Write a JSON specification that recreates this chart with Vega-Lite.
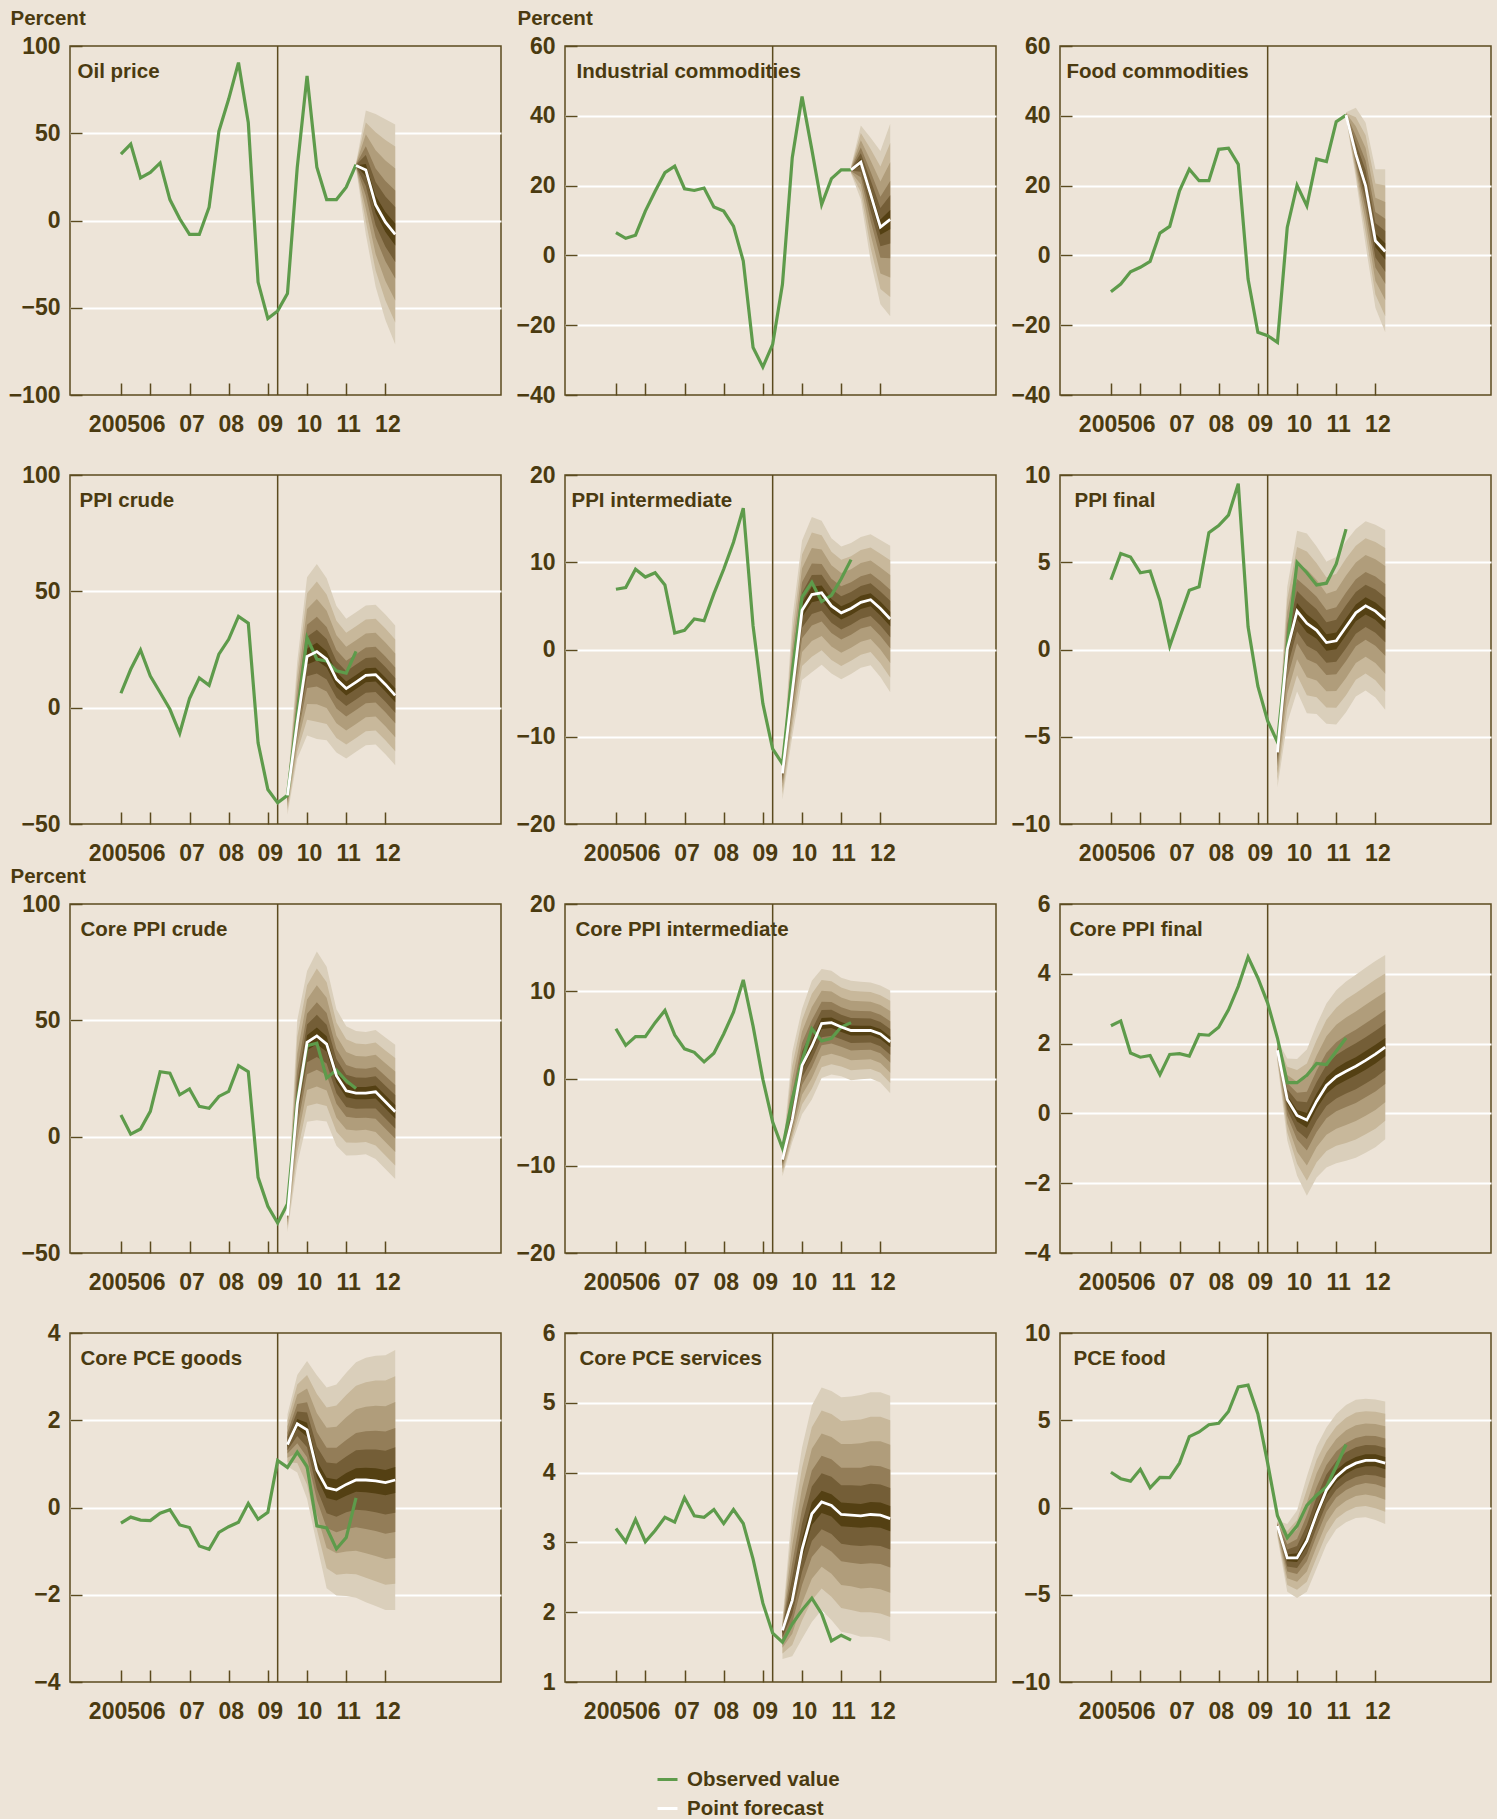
{
"$schema":"https://vega.github.io/schema/vega-lite/v6.json",
"padding":{"left":7,"top":7,"right":5,"bottom":5},
"background":"#ede4d8",
"datasets":{
"d1":[{"t":2005.25,"o":38.1},{"t":2005.5,"o":43.8},{"t":2005.75,"o":24.4},{"t":2006,"o":27.6},{"t":2006.25,"o":33},{"t":2006.5,"o":12},{"t":2006.75,"o":1},{"t":2007,"o":-8},{"t":2007.25,"o":-8},{"t":2007.5,"o":7.6},{"t":2007.75,"o":51.1},{"t":2008,"o":69.6},{"t":2008.25,"o":90.5},{"t":2008.5,"o":56.2},{"t":2008.75,"o":-35.3},{"t":2009,"o":-56.2},{"t":2009.25,"o":-51.8},{"t":2009.5,"o":-41.9},{"t":2009.75,"o":30.5},{"t":2010,"o":82.9},{"t":2010.25,"o":30.5},{"t":2010.5,"o":12},{"t":2010.75,"o":12},{"t":2011,"o":19.1},
{"t":2011.25,"o":32,"c":31.5,"l1":30,"h1":33,"l2":30.3,"h2":32.7,"l3":30.6,"h3":32.4,"l4":30.9,"h4":32.1,"l5":31.1,"h5":31.9,"l6":31.4,"h6":31.7},
{"t":2011.5,"c":29,"l1":-8,"h1":63,"l2":-0.6,"h2":56.2,"l3":6.8,"h3":49.4,"l4":14.2,"h4":42.6,"l5":19.75,"h5":37.5,"l6":25.3,"h6":32.4},
{"t":2011.75,"c":9,"l1":-38,"h1":61,"l2":-28.6,"h2":50.6,"l3":-19.2,"h3":40.2,"l4":-9.8,"h4":29.8,"l5":-2.75,"h5":22,"l6":4.3,"h6":14.2},
{"t":2012,"c":-1,"l1":-57,"h1":58,"l2":-45.8,"h2":46.2,"l3":-34.6,"h3":34.4,"l4":-23.4,"h4":22.6,"l5":-15,"h5":13.75,"l6":-6.6,"h6":4.9},
{"t":2012.25,"c":-8,"l1":-71,"h1":55,"l2":-58.4,"h2":42.4,"l3":-45.8,"h3":29.8,"l4":-33.2,"h4":17.2,"l5":-23.75,"h5":7.75,"l6":-14.3,"h6":-1.7}],
"d2":[{"t":2005.25,"o":6.5},{"t":2005.5,"o":4.9},{"t":2005.75,"o":5.8},{"t":2006,"o":12.7},{"t":2006.25,"o":18.4},{"t":2006.5,"o":23.7},{"t":2006.75,"o":25.6},{"t":2007,"o":19.1},{"t":2007.25,"o":18.6},{"t":2007.5,"o":19.3},{"t":2007.75,"o":13.9},{"t":2008,"o":12.7},{"t":2008.25,"o":8.4},{"t":2008.5,"o":-1.6},{"t":2008.75,"o":-26.4},{"t":2009,"o":-32},{"t":2009.25,"o":-25.5},{"t":2009.5,"o":-8.3},{"t":2009.75,"o":28},{"t":2010,"o":45.5},{"t":2010.25,"o":30.3},{"t":2010.5,"o":14.6},{"t":2010.75,"o":22},{"t":2011,"o":24.5},
{"t":2011.25,"o":24.5,"c":24.5,"l1":23.5,"h1":25.5,"l2":23.7,"h2":25.3,"l3":23.9,"h3":25.1,"l4":24.1,"h4":24.9,"l5":24.25,"h5":24.75,"l6":24.4,"h6":24.6},
{"t":2011.5,"c":26.7,"l1":16,"h1":37.2,"l2":18.1,"h2":35.1,"l3":20.3,"h3":33,"l4":22.4,"h4":30.9,"l5":24,"h5":29.3,"l6":25.6,"h6":27.75},
{"t":2011.75,"c":17.5,"l1":-1.6,"h1":33.7,"l2":2.2,"h2":30.5,"l3":6,"h3":27.2,"l4":9.9,"h4":24,"l5":12.7,"h5":21.6,"l6":15.6,"h6":19.1},
{"t":2012,"c":8.1,"l1":-14,"h1":29.9,"l2":-9.6,"h2":25.5,"l3":-5.2,"h3":21.2,"l4":-0.7,"h4":16.8,"l5":2.6,"h5":13.6,"l6":5.9,"h6":10.3},
{"t":2012.25,"c":10.3,"l1":-17.4,"h1":37.7,"l2":-11.9,"h2":32.2,"l3":-6.3,"h3":26.7,"l4":-0.8,"h4":21.3,"l5":3.4,"h5":17.2,"l6":7.5,"h6":13}],
"d3":[{"t":2005.25,"o":-10.4},{"t":2005.5,"o":-8.2},{"t":2005.75,"o":-4.7},{"t":2006,"o":-3.4},{"t":2006.25,"o":-1.7},{"t":2006.5,"o":6.4},{"t":2006.75,"o":8.3},{"t":2007,"o":18.5},{"t":2007.25,"o":24.7},{"t":2007.5,"o":21.4},{"t":2007.75,"o":21.4},{"t":2008,"o":30.4},{"t":2008.25,"o":30.7},{"t":2008.5,"o":26.1},{"t":2008.75,"o":-6.8},{"t":2009,"o":-22},{"t":2009.25,"o":-23},{"t":2009.5,"o":-24.9},{"t":2009.75,"o":8},{"t":2010,"o":20.1},{"t":2010.25,"o":14.2},{"t":2010.5,"o":27.6},{"t":2010.75,"o":26.9},{"t":2011,"o":38.3},
{"t":2011.25,"o":40.2,"c":40.2,"l1":39.4,"h1":41,"l2":39.6,"h2":40.8,"l3":39.7,"h3":40.7,"l4":39.9,"h4":40.5,"l5":40,"h5":40.4,"l6":40.1,"h6":40.3},
{"t":2011.5,"c":29,"l1":22,"h1":42.3,"l2":23.4,"h2":39.6,"l3":24.8,"h3":37,"l4":26.2,"h4":34.3,"l5":27.25,"h5":32.3,"l6":28.3,"h6":30.3},
{"t":2011.75,"c":19.9,"l1":3,"h1":38,"l2":6.4,"h2":34.4,"l3":9.8,"h3":30.8,"l4":13.1,"h4":27.1,"l5":15.7,"h5":24.4,"l6":18.2,"h6":21.7},
{"t":2012,"c":4.2,"l1":-15,"h1":24.7,"l2":-11.2,"h2":20.6,"l3":-7.3,"h3":16.5,"l4":-3.5,"h4":12.4,"l5":-0.6,"h5":9.3,"l6":2.3,"h6":6.25},
{"t":2012.25,"c":1.1,"l1":-22,"h1":24.7,"l2":-17.4,"h2":20,"l3":-12.8,"h3":15.3,"l4":-8.1,"h4":10.5,"l5":-4.7,"h5":7,"l6":-1.2,"h6":3.5}],
"d4":[{"t":2005.25,"o":6.2},{"t":2005.5,"o":16.5},{"t":2005.75,"o":24.8},{"t":2006,"o":13.6},{"t":2006.25,"o":6.5},{"t":2006.5,"o":-0.7},{"t":2006.75,"o":-11},{"t":2007,"o":3.9},{"t":2007.25,"o":12.8},{"t":2007.5,"o":9.6},{"t":2007.75,"o":23},{"t":2008,"o":29.4},{"t":2008.25,"o":39.2},{"t":2008.5,"o":36.3},{"t":2008.75,"o":-15.1},{"t":2009,"o":-35.2},{"t":2009.25,"o":-40.9},
{"t":2009.5,"o":-37.7,"c":-37.7,"l1":-46,"h1":-35,"l2":-44.3,"h2":-35.5,"l3":-42.7,"h3":-36.1,"l4":-41,"h4":-36.6,"l5":-39.8,"h5":-37,"l6":-38.5,"h6":-37.4},
{"t":2009.75,"o":-3,"c":-6.5,"l1":-22,"h1":20,"l2":-18.9,"h2":14.7,"l3":-15.8,"h3":9.4,"l4":-12.7,"h4":4.1,"l5":-10.4,"h5":0.1,"l6":-8.05,"h6":-3.85},
{"t":2010,"o":30,"c":22,"l1":-12,"h1":56,"l2":-5.2,"h2":49.2,"l3":1.6,"h3":42.4,"l4":8.4,"h4":35.6,"l5":13.5,"h5":30.5,"l6":18.6,"h6":25.4},
{"t":2010.25,"o":20.8,"c":24.1,"l1":-13.5,"h1":61.7,"l2":-6,"h2":54.2,"l3":1.5,"h3":46.7,"l4":9.1,"h4":39.1,"l5":14.7,"h5":33.5,"l6":20.3,"h6":27.9},
{"t":2010.5,"o":20.1,"c":20.8,"l1":-14,"h1":55.6,"l2":-7,"h2":48.6,"l3":-0.1,"h3":41.7,"l4":6.9,"h4":34.7,"l5":12.1,"h5":29.5,"l6":17.3,"h6":24.3},
{"t":2010.75,"o":15.8,"c":12.2,"l1":-19.3,"h1":43.7,"l2":-13,"h2":37.4,"l3":-6.7,"h3":31.1,"l4":-0.4,"h4":24.8,"l5":4.3,"h5":20.1,"l6":9,"h6":15.4},
{"t":2011,"o":14.8,"c":8.2,"l1":-21.8,"h1":38.2,"l2":-15.8,"h2":32.2,"l3":-9.8,"h3":26.2,"l4":-3.8,"h4":20.2,"l5":0.7,"h5":15.7,"l6":5.2,"h6":11.2},
{"t":2011.25,"o":24.2,"c":11,"l1":-19,"h1":41,"l2":-13,"h2":35,"l3":-7,"h3":29,"l4":-1,"h4":23,"l5":3.5,"h5":18.5,"l6":8,"h6":14},
{"t":2011.5,"c":13.9,"l1":-16.1,"h1":43.9,"l2":-10.1,"h2":37.9,"l3":-4.1,"h3":31.9,"l4":1.9,"h4":25.9,"l5":6.4,"h5":21.4,"l6":10.9,"h6":16.9},
{"t":2011.75,"c":14.2,"l1":-15.8,"h1":44.2,"l2":-9.8,"h2":38.2,"l3":-3.8,"h3":32.2,"l4":2.2,"h4":26.2,"l5":6.7,"h5":21.7,"l6":11.2,"h6":17.2},
{"t":2012,"c":10,"l1":-20,"h1":40,"l2":-14,"h2":34,"l3":-8,"h3":28,"l4":-2,"h4":22,"l5":2.5,"h5":17.5,"l6":7,"h6":13},
{"t":2012.25,"c":5.3,"l1":-24.7,"h1":35.3,"l2":-18.7,"h2":29.3,"l3":-12.7,"h3":23.3,"l4":-6.7,"h4":17.3,"l5":-2.2,"h5":12.8,"l6":2.3,"h6":8.3}],
"d5":[{"t":2005.25,"o":6.9},{"t":2005.5,"o":7.1},{"t":2005.75,"o":9.2},{"t":2006,"o":8.3},{"t":2006.25,"o":8.8},{"t":2006.5,"o":7.4},{"t":2006.75,"o":1.9},{"t":2007,"o":2.2},{"t":2007.25,"o":3.5},{"t":2007.5,"o":3.3},{"t":2007.75,"o":6.4},{"t":2008,"o":9.2},{"t":2008.25,"o":12.3},{"t":2008.5,"o":16.2},{"t":2008.75,"o":2.7},{"t":2009,"o":-6.2},{"t":2009.25,"o":-11.4},
{"t":2009.5,"o":-13.1,"c":-14.2,"l1":-17.2,"h1":-13.5,"l2":-16.6,"h2":-13.64,"l3":-16,"h3":-13.78,"l4":-15.4,"h4":-13.92,"l5":-14.95,"h5":-14.02,"l6":-14.5,"h6":-14.13},
{"t":2009.75,"o":-2.6,"c":-4.9,"l1":-10,"h1":3.5,"l2":-8.98,"h2":1.82,"l3":-7.96,"h3":0.14,"l4":-6.94,"h4":-1.54,"l5":-6.18,"h5":-2.8,"l6":-5.41,"h6":-4.06},
{"t":2010,"o":6,"c":4.5,"l1":-3.5,"h1":12.5,"l2":-1.9,"h2":10.9,"l3":-0.3,"h3":9.3,"l4":1.3,"h4":7.7,"l5":2.5,"h5":6.5,"l6":3.7,"h6":5.3},
{"t":2010.25,"o":7.7,"c":6.3,"l1":-2.6,"h1":15.2,"l2":-0.82,"h2":13.42,"l3":0.96,"h3":11.64,"l4":2.74,"h4":9.86,"l5":4.07,"h5":8.53,"l6":5.41,"h6":7.19},
{"t":2010.5,"o":5.5,"c":6.5,"l1":-1.75,"h1":14.75,"l2":-0.1,"h2":13.1,"l3":1.55,"h3":11.45,"l4":3.2,"h4":9.8,"l5":4.44,"h5":8.56,"l6":5.67,"h6":7.33},
{"t":2010.75,"o":6.2,"c":5,"l1":-2.75,"h1":12.75,"l2":-1.2,"h2":11.2,"l3":0.35,"h3":9.65,"l4":1.9,"h4":8.1,"l5":3.06,"h5":6.94,"l6":4.22,"h6":5.78},
{"t":2011,"o":8.1,"c":4.2,"l1":-3.4,"h1":11.8,"l2":-1.88,"h2":10.28,"l3":-0.36,"h3":8.76,"l4":1.16,"h4":7.24,"l5":2.3,"h5":6.1,"l6":3.44,"h6":4.96},
{"t":2011.25,"o":10.3,"c":4.7,"l1":-2.8,"h1":12.2,"l2":-1.3,"h2":10.7,"l3":0.2,"h3":9.2,"l4":1.7,"h4":7.7,"l5":2.83,"h5":6.58,"l6":3.95,"h6":5.45},
{"t":2011.5,"c":5.4,"l1":-2.1,"h1":12.9,"l2":-0.6,"h2":11.4,"l3":0.9,"h3":9.9,"l4":2.4,"h4":8.4,"l5":3.53,"h5":7.28,"l6":4.65,"h6":6.15},
{"t":2011.75,"c":5.7,"l1":-1.8,"h1":13.2,"l2":-0.3,"h2":11.7,"l3":1.2,"h3":10.2,"l4":2.7,"h4":8.7,"l5":3.83,"h5":7.58,"l6":4.95,"h6":6.45},
{"t":2012,"c":4.7,"l1":-3.15,"h1":12.55,"l2":-1.58,"h2":10.98,"l3":-0.01,"h3":9.41,"l4":1.56,"h4":7.84,"l5":2.74,"h5":6.66,"l6":3.91,"h6":5.49},
{"t":2012.25,"c":3.5,"l1":-4.9,"h1":11.9,"l2":-3.22,"h2":10.22,"l3":-1.54,"h3":8.54,"l4":0.14,"h4":6.86,"l5":1.4,"h5":5.6,"l6":2.66,"h6":4.34}],
"d6":[{"t":2005.25,"o":4},{"t":2005.5,"o":5.5},{"t":2005.75,"o":5.3},{"t":2006,"o":4.4},{"t":2006.25,"o":4.5},{"t":2006.5,"o":2.8},{"t":2006.75,"o":0.2},{"t":2007,"o":1.8},{"t":2007.25,"o":3.4},{"t":2007.5,"o":3.6},{"t":2007.75,"o":6.7},{"t":2008,"o":7.1},{"t":2008.25,"o":7.7},{"t":2008.5,"o":9.5},{"t":2008.75,"o":1.3},{"t":2009,"o":-2.1},{"t":2009.25,"o":-4.1},
{"t":2009.5,"o":-5.3,"c":-5.9,"l1":-7.9,"h1":-5.6,"l2":-7.5,"h2":-5.66,"l3":-7.1,"h3":-5.72,"l4":-6.7,"h4":-5.78,"l5":-6.4,"h5":-5.82,"l6":-6.1,"h6":-5.87},
{"t":2009.75,"o":0.2,"c":0,"l1":-4.2,"h1":3.6,"l2":-3.36,"h2":2.88,"l3":-2.52,"h3":2.16,"l4":-1.68,"h4":1.44,"l5":-1.05,"h5":0.9,"l6":-0.42,"h6":0.36},
{"t":2010,"o":5,"c":2.2,"l1":-2.4,"h1":6.8,"l2":-1.48,"h2":5.88,"l3":-0.56,"h3":4.96,"l4":0.36,"h4":4.04,"l5":1.05,"h5":3.35,"l6":1.74,"h6":2.66},
{"t":2010.25,"o":4.4,"c":1.5,"l1":-3.65,"h1":6.65,"l2":-2.62,"h2":5.62,"l3":-1.59,"h3":4.59,"l4":-0.56,"h4":3.56,"l5":0.21,"h5":2.79,"l6":0.98,"h6":2.02},
{"t":2010.5,"o":3.7,"c":1.1,"l1":-3.7,"h1":5.9,"l2":-2.74,"h2":4.94,"l3":-1.78,"h3":3.98,"l4":-0.82,"h4":3.02,"l5":-0.1,"h5":2.3,"l6":0.62,"h6":1.58},
{"t":2010.75,"o":3.8,"c":0.4,"l1":-4.25,"h1":5.05,"l2":-3.32,"h2":4.12,"l3":-2.39,"h3":3.19,"l4":-1.46,"h4":2.26,"l5":-0.76,"h5":1.56,"l6":-0.07,"h6":0.87},
{"t":2011,"o":4.9,"c":0.5,"l1":-4.3,"h1":5.3,"l2":-3.34,"h2":4.34,"l3":-2.38,"h3":3.38,"l4":-1.42,"h4":2.42,"l5":-0.7,"h5":1.7,"l6":0.02,"h6":0.98},
{"t":2011.25,"o":6.9,"c":1.3,"l1":-3.6,"h1":6.2,"l2":-2.62,"h2":5.22,"l3":-1.64,"h3":4.24,"l4":-0.66,"h4":3.26,"l5":0.07,"h5":2.53,"l6":0.81,"h6":1.79},
{"t":2011.5,"c":2.1,"l1":-2.7,"h1":6.9,"l2":-1.74,"h2":5.94,"l3":-0.78,"h3":4.98,"l4":0.18,"h4":4.02,"l5":0.9,"h5":3.3,"l6":1.62,"h6":2.58},
{"t":2011.75,"c":2.5,"l1":-2.35,"h1":7.35,"l2":-1.38,"h2":6.38,"l3":-0.41,"h3":5.41,"l4":0.56,"h4":4.44,"l5":1.29,"h5":3.71,"l6":2.01,"h6":2.99},
{"t":2012,"c":2.2,"l1":-2.75,"h1":7.15,"l2":-1.76,"h2":6.16,"l3":-0.77,"h3":5.17,"l4":0.22,"h4":4.18,"l5":0.96,"h5":3.44,"l6":1.7,"h6":2.7},
{"t":2012.25,"c":1.7,"l1":-3.45,"h1":6.85,"l2":-2.42,"h2":5.82,"l3":-1.39,"h3":4.79,"l4":-0.36,"h4":3.76,"l5":0.41,"h5":2.99,"l6":1.18,"h6":2.22}],
"d7":[{"t":2005.25,"o":9.3},{"t":2005.5,"o":1.1},{"t":2005.75,"o":3.3},{"t":2006,"o":10.9},{"t":2006.25,"o":27.9},{"t":2006.5,"o":27.3},{"t":2006.75,"o":18},{"t":2007,"o":20.5},{"t":2007.25,"o":13},{"t":2007.5,"o":12.2},{"t":2007.75,"o":17.3},{"t":2008,"o":19.5},{"t":2008.25,"o":30.5},{"t":2008.5,"o":27.9},{"t":2008.75,"o":-17.5},{"t":2009,"o":-29.9},{"t":2009.25,"o":-37.1},
{"t":2009.5,"o":-28.9,"c":-33.9,"l1":-41,"h1":-32,"l2":-39.58,"h2":-32.38,"l3":-38.16,"h3":-32.76,"l4":-36.74,"h4":-33.14,"l5":-35.68,"h5":-33.42,"l6":-34.61,"h6":-33.71},
{"t":2009.75,"o":15.5,"c":14,"l1":-12,"h1":50,"l2":-6.8,"h2":42.8,"l3":-1.6,"h3":35.6,"l4":3.6,"h4":28.4,"l5":7.5,"h5":23,"l6":11.4,"h6":17.6},
{"t":2010,"o":39.1,"c":40.5,"l1":6.4,"h1":71.2,"l2":13.22,"h2":65.06,"l3":20.04,"h3":58.92,"l4":26.86,"h4":52.78,"l5":31.97,"h5":48.18,"l6":37.09,"h6":43.57},
{"t":2010.25,"o":40.2,"c":43.3,"l1":7.05,"h1":79.55,"l2":14.3,"h2":72.3,"l3":21.55,"h3":65.05,"l4":28.8,"h4":57.8,"l5":34.24,"h5":52.36,"l6":39.67,"h6":46.93},
{"t":2010.5,"o":25.2,"c":39.8,"l1":6.55,"h1":73.05,"l2":13.2,"h2":66.4,"l3":19.85,"h3":59.75,"l4":26.5,"h4":53.1,"l5":31.49,"h5":48.11,"l6":36.47,"h6":43.13},
{"t":2010.75,"o":28.6,"c":26.2,"l1":-3.9,"h1":54.8,"l2":2.12,"h2":49.08,"l3":8.14,"h3":43.36,"l4":14.16,"h4":37.64,"l5":18.67,"h5":33.35,"l6":23.19,"h6":29.06},
{"t":2011,"o":24,"c":19.7,"l1":-8.05,"h1":47.45,"l2":-2.5,"h2":41.9,"l3":3.05,"h3":36.35,"l4":8.6,"h4":30.8,"l5":12.76,"h5":26.64,"l6":16.92,"h6":22.48},
{"t":2011.25,"o":20.7,"c":18.7,"l1":-8,"h1":45.4,"l2":-2.66,"h2":40.06,"l3":2.68,"h3":34.72,"l4":8.02,"h4":29.38,"l5":12.02,"h5":25.38,"l6":16.03,"h6":21.37},
{"t":2011.5,"c":18.7,"l1":-7.6,"h1":45,"l2":-2.34,"h2":39.74,"l3":2.92,"h3":34.48,"l4":8.18,"h4":29.22,"l5":12.12,"h5":25.28,"l6":16.07,"h6":21.33},
{"t":2011.75,"c":19.3,"l1":-9.6,"h1":45.8,"l2":-3.82,"h2":40.5,"l3":1.96,"h3":35.2,"l4":7.74,"h4":29.9,"l5":12.07,"h5":25.93,"l6":16.41,"h6":21.95},
{"t":2012,"c":15,"l1":-13.9,"h1":42.6,"l2":-8.12,"h2":37.08,"l3":-2.34,"h3":31.56,"l4":3.44,"h4":26.04,"l5":7.77,"h5":21.9,"l6":12.11,"h6":17.76},
{"t":2012.25,"c":10.7,"l1":-18.15,"h1":39.55,"l2":-12.38,"h2":33.78,"l3":-6.61,"h3":28.01,"l4":-0.84,"h4":22.24,"l5":3.49,"h5":17.91,"l6":7.81,"h6":13.59}],
"d8":[{"t":2005.25,"o":5.7},{"t":2005.5,"o":3.8},{"t":2005.75,"o":4.8},{"t":2006,"o":4.8},{"t":2006.25,"o":6.4},{"t":2006.5,"o":7.8},{"t":2006.75,"o":5},{"t":2007,"o":3.4},{"t":2007.25,"o":3},{"t":2007.5,"o":1.9},{"t":2007.75,"o":2.9},{"t":2008,"o":5.1},{"t":2008.25,"o":7.6},{"t":2008.5,"o":11.3},{"t":2008.75,"o":6},{"t":2009,"o":-0.1},{"t":2009.25,"o":-5},
{"t":2009.5,"o":-8,"c":-9.3,"l1":-11.2,"h1":-8.5,"l2":-10.82,"h2":-8.66,"l3":-10.44,"h3":-8.82,"l4":-10.06,"h4":-8.98,"l5":-9.78,"h5":-9.1,"l6":-9.49,"h6":-9.22},
{"t":2009.75,"o":-2.4,"c":-4.7,"l1":-7.3,"h1":3,"l2":-6.78,"h2":1.46,"l3":-6.26,"h3":-0.08,"l4":-5.74,"h4":-1.62,"l5":-5.35,"h5":-2.77,"l6":-4.96,"h6":-3.93},
{"t":2010,"o":2,"c":1.5,"l1":-4.1,"h1":8,"l2":-2.98,"h2":6.7,"l3":-1.86,"h3":5.4,"l4":-0.74,"h4":4.1,"l5":0.1,"h5":3.13,"l6":0.94,"h6":2.15},
{"t":2010.25,"o":5.7,"c":3.7,"l1":-2.4,"h1":11.2,"l2":-1.18,"h2":9.7,"l3":0.04,"h3":8.2,"l4":1.26,"h4":6.7,"l5":2.17,"h5":5.58,"l6":3.09,"h6":4.45},
{"t":2010.5,"o":4.3,"c":6.3,"l1":0.05,"h1":12.55,"l2":1.3,"h2":11.3,"l3":2.55,"h3":10.05,"l4":3.8,"h4":8.8,"l5":4.74,"h5":7.86,"l6":5.67,"h6":6.93},
{"t":2010.75,"o":4.6,"c":6.4,"l1":0.45,"h1":12.35,"l2":1.64,"h2":11.16,"l3":2.83,"h3":9.97,"l4":4.02,"h4":8.78,"l5":4.91,"h5":7.89,"l6":5.8,"h6":7},
{"t":2011,"o":5.9,"c":5.9,"l1":0.25,"h1":11.55,"l2":1.38,"h2":10.42,"l3":2.51,"h3":9.29,"l4":3.64,"h4":8.16,"l5":4.49,"h5":7.31,"l6":5.33,"h6":6.47},
{"t":2011.25,"o":6.4,"c":5.5,"l1":-0.2,"h1":11.2,"l2":0.94,"h2":10.06,"l3":2.08,"h3":8.92,"l4":3.22,"h4":7.78,"l5":4.07,"h5":6.93,"l6":4.93,"h6":6.07},
{"t":2011.5,"c":5.5,"l1":-0.1,"h1":11.1,"l2":1.02,"h2":9.98,"l3":2.14,"h3":8.86,"l4":3.26,"h4":7.74,"l5":4.1,"h5":6.9,"l6":4.94,"h6":6.06},
{"t":2011.75,"c":5.5,"l1":0,"h1":11,"l2":1.1,"h2":9.9,"l3":2.2,"h3":8.8,"l4":3.3,"h4":7.7,"l5":4.12,"h5":6.88,"l6":4.95,"h6":6.05},
{"t":2012,"c":5.1,"l1":-0.45,"h1":10.65,"l2":0.66,"h2":9.54,"l3":1.77,"h3":8.43,"l4":2.88,"h4":7.32,"l5":3.71,"h5":6.49,"l6":4.54,"h6":5.66},
{"t":2012.25,"c":4.2,"l1":-1.7,"h1":10.1,"l2":-0.52,"h2":8.92,"l3":0.66,"h3":7.74,"l4":1.84,"h4":6.56,"l5":2.72,"h5":5.68,"l6":3.61,"h6":4.79}],
"d9":[{"t":2005.25,"o":2.51},{"t":2005.5,"o":2.65},{"t":2005.75,"o":1.73},{"t":2006,"o":1.61},{"t":2006.25,"o":1.66},{"t":2006.5,"o":1.11},{"t":2006.75,"o":1.69},{"t":2007,"o":1.71},{"t":2007.25,"o":1.64},{"t":2007.5,"o":2.26},{"t":2007.75,"o":2.24},{"t":2008,"o":2.47},{"t":2008.25,"o":2.97},{"t":2008.5,"o":3.64},{"t":2008.75,"o":4.48},{"t":2009,"o":3.88},{"t":2009.25,"o":3.16},
{"t":2009.5,"o":2.16,"c":1.81,"l1":1.45,"h1":2.1,"l2":1.52,"h2":2.04,"l3":1.59,"h3":1.98,"l4":1.67,"h4":1.93,"l5":1.72,"h5":1.88,"l6":1.77,"h6":1.84},
{"t":2009.75,"o":0.88,"c":0.4,"l1":-0.77,"h1":1.57,"l2":-0.54,"h2":1.34,"l3":-0.3,"h3":1.1,"l4":-0.07,"h4":0.87,"l5":0.11,"h5":0.69,"l6":0.28,"h6":0.52},
{"t":2010,"o":0.88,"c":-0.06,"l1":-1.79,"h1":1.56,"l2":-1.44,"h2":1.24,"l3":-1.1,"h3":0.91,"l4":-0.75,"h4":0.59,"l5":-0.49,"h5":0.35,"l6":-0.23,"h6":0.1},
{"t":2010.25,"o":1.09,"c":-0.19,"l1":-2.36,"h1":1.83,"l2":-1.93,"h2":1.43,"l3":-1.49,"h3":1.02,"l4":-1.06,"h4":0.62,"l5":-0.73,"h5":0.32,"l6":-0.41,"h6":0.01},
{"t":2010.5,"o":1.43,"c":0.35,"l1":-1.84,"h1":2.54,"l2":-1.4,"h2":2.1,"l3":-0.96,"h3":1.66,"l4":-0.53,"h4":1.23,"l5":-0.2,"h5":0.9,"l6":0.13,"h6":0.57},
{"t":2010.75,"o":1.4,"c":0.8,"l1":-1.55,"h1":3.15,"l2":-1.08,"h2":2.68,"l3":-0.61,"h3":2.21,"l4":-0.14,"h4":1.74,"l5":0.21,"h5":1.39,"l6":0.56,"h6":1.04},
{"t":2011,"o":1.78,"c":1.05,"l1":-1.43,"h1":3.53,"l2":-0.93,"h2":3.03,"l3":-0.44,"h3":2.54,"l4":0.06,"h4":2.04,"l5":0.43,"h5":1.67,"l6":0.8,"h6":1.3},
{"t":2011.25,"o":2.16,"c":1.21,"l1":-1.36,"h1":3.78,"l2":-0.85,"h2":3.27,"l3":-0.33,"h3":2.75,"l4":0.18,"h4":2.24,"l5":0.57,"h5":1.85,"l6":0.95,"h6":1.47},
{"t":2011.5,"c":1.35,"l1":-1.27,"h1":3.97,"l2":-0.75,"h2":3.45,"l3":-0.22,"h3":2.92,"l4":0.3,"h4":2.4,"l5":0.69,"h5":2.01,"l6":1.09,"h6":1.61},
{"t":2011.75,"c":1.52,"l1":-1.13,"h1":4.17,"l2":-0.6,"h2":3.64,"l3":-0.07,"h3":3.11,"l4":0.46,"h4":2.58,"l5":0.86,"h5":2.18,"l6":1.25,"h6":1.79},
{"t":2012,"c":1.7,"l1":-0.97,"h1":4.37,"l2":-0.44,"h2":3.84,"l3":0.1,"h3":3.3,"l4":0.63,"h4":2.77,"l5":1.03,"h5":2.37,"l6":1.43,"h6":1.97},
{"t":2012.25,"c":1.9,"l1":-0.74,"h1":4.54,"l2":-0.21,"h2":4.01,"l3":0.32,"h3":3.48,"l4":0.84,"h4":2.96,"l5":1.24,"h5":2.56,"l6":1.64,"h6":2.16}],
"d10":[{"t":2005.25,"o":-0.36},{"t":2005.5,"o":-0.22},{"t":2005.75,"o":-0.29},{"t":2006,"o":-0.3},{"t":2006.25,"o":-0.13},{"t":2006.5,"o":-0.05},{"t":2006.75,"o":-0.4},{"t":2007,"o":-0.46},{"t":2007.25,"o":-0.88},{"t":2007.5,"o":-0.96},{"t":2007.75,"o":-0.57},{"t":2008,"o":-0.44},{"t":2008.25,"o":-0.34},{"t":2008.5,"o":0.09},{"t":2008.75,"o":-0.27},{"t":2009,"o":-0.11},{"t":2009.25,"o":1.08},
{"t":2009.5,"o":0.92,"c":1.44,"l1":0.94,"h1":2.14,"l2":1.04,"h2":2,"l3":1.14,"h3":1.86,"l4":1.24,"h4":1.72,"l5":1.31,"h5":1.62,"l6":1.39,"h6":1.51},
{"t":2009.75,"o":1.27,"c":1.92,"l1":0.8,"h1":3.04,"l2":1.02,"h2":2.82,"l3":1.25,"h3":2.59,"l4":1.47,"h4":2.37,"l5":1.64,"h5":2.2,"l6":1.81,"h6":2.03},
{"t":2010,"o":0.94,"c":1.78,"l1":0.2,"h1":3.36,"l2":0.52,"h2":3.04,"l3":0.83,"h3":2.73,"l4":1.15,"h4":2.41,"l5":1.38,"h5":2.18,"l6":1.62,"h6":1.94},
{"t":2010.25,"o":-0.42,"c":0.86,"l1":-0.84,"h1":3.03,"l2":-0.5,"h2":2.6,"l3":-0.16,"h3":2.16,"l4":0.18,"h4":1.73,"l5":0.43,"h5":1.4,"l6":0.69,"h6":1.08},
{"t":2010.5,"o":-0.47,"c":0.45,"l1":-1.85,"h1":2.75,"l2":-1.39,"h2":2.29,"l3":-0.93,"h3":1.83,"l4":-0.47,"h4":1.37,"l5":-0.13,"h5":1.03,"l6":0.22,"h6":0.68},
{"t":2010.75,"o":-0.95,"c":0.4,"l1":-2.02,"h1":2.82,"l2":-1.54,"h2":2.34,"l3":-1.05,"h3":1.85,"l4":-0.57,"h4":1.37,"l5":-0.21,"h5":1.01,"l6":0.16,"h6":0.64},
{"t":2011,"o":-0.69,"c":0.53,"l1":-2.03,"h1":3.09,"l2":-1.52,"h2":2.58,"l3":-1.01,"h3":2.07,"l4":-0.49,"h4":1.55,"l5":-0.11,"h5":1.17,"l6":0.27,"h6":0.79},
{"t":2011.25,"o":0.22,"c":0.63,"l1":-2.07,"h1":3.33,"l2":-1.53,"h2":2.79,"l3":-0.99,"h3":2.25,"l4":-0.45,"h4":1.71,"l5":-0.05,"h5":1.31,"l6":0.36,"h6":0.9},
{"t":2011.5,"c":0.63,"l1":-2.17,"h1":3.43,"l2":-1.61,"h2":2.87,"l3":-1.05,"h3":2.31,"l4":-0.49,"h4":1.75,"l5":-0.07,"h5":1.33,"l6":0.35,"h6":0.91},
{"t":2011.75,"c":0.61,"l1":-2.26,"h1":3.48,"l2":-1.69,"h2":2.91,"l3":-1.11,"h3":2.33,"l4":-0.54,"h4":1.76,"l5":-0.11,"h5":1.33,"l6":0.32,"h6":0.9},
{"t":2012,"c":0.57,"l1":-2.35,"h1":3.49,"l2":-1.77,"h2":2.91,"l3":-1.18,"h3":2.32,"l4":-0.6,"h4":1.74,"l5":-0.16,"h5":1.3,"l6":0.28,"h6":0.86},
{"t":2012.25,"c":0.63,"l1":-2.35,"h1":3.61,"l2":-1.75,"h2":3.01,"l3":-1.16,"h3":2.42,"l4":-0.56,"h4":1.82,"l5":-0.12,"h5":1.38,"l6":0.33,"h6":0.93}],
"d11":[{"t":2005.25,"o":3.2},{"t":2005.5,"o":3.01},{"t":2005.75,"o":3.33},{"t":2006,"o":3.01},{"t":2006.25,"o":3.17},{"t":2006.5,"o":3.36},{"t":2006.75,"o":3.29},{"t":2007,"o":3.64},{"t":2007.25,"o":3.38},{"t":2007.5,"o":3.36},{"t":2007.75,"o":3.47},{"t":2008,"o":3.27},{"t":2008.25,"o":3.47},{"t":2008.5,"o":3.27},{"t":2008.75,"o":2.76},{"t":2009,"o":2.13},{"t":2009.25,"o":1.7},
{"t":2009.5,"o":1.57,"c":1.74,"l1":1.33,"h1":1.88,"l2":1.41,"h2":1.85,"l3":1.49,"h3":1.82,"l4":1.58,"h4":1.8,"l5":1.64,"h5":1.78,"l6":1.7,"h6":1.75},
{"t":2009.75,"o":1.83,"c":2.17,"l1":1.37,"h1":3.49,"l2":1.53,"h2":3.23,"l3":1.69,"h3":2.96,"l4":1.85,"h4":2.7,"l5":1.97,"h5":2.5,"l6":2.09,"h6":2.3},
{"t":2010,"o":2.03,"c":2.9,"l1":1.62,"h1":4.36,"l2":1.88,"h2":4.07,"l3":2.13,"h3":3.78,"l4":2.39,"h4":3.48,"l5":2.58,"h5":3.27,"l6":2.77,"h6":3.05},
{"t":2010.25,"o":2.2,"c":3.41,"l1":1.86,"h1":4.96,"l2":2.17,"h2":4.65,"l3":2.48,"h3":4.34,"l4":2.79,"h4":4.03,"l5":3.02,"h5":3.8,"l6":3.25,"h6":3.57},
{"t":2010.5,"o":1.98,"c":3.58,"l1":2.03,"h1":5.22,"l2":2.34,"h2":4.89,"l3":2.65,"h3":4.56,"l4":2.96,"h4":4.24,"l5":3.19,"h5":3.99,"l6":3.42,"h6":3.74},
{"t":2010.75,"o":1.59,"c":3.53,"l1":1.89,"h1":5.17,"l2":2.22,"h2":4.84,"l3":2.55,"h3":4.51,"l4":2.87,"h4":4.19,"l5":3.12,"h5":3.94,"l6":3.37,"h6":3.69},
{"t":2011,"o":1.67,"c":3.4,"l1":1.72,"h1":5.08,"l2":2.06,"h2":4.74,"l3":2.39,"h3":4.41,"l4":2.73,"h4":4.07,"l5":2.98,"h5":3.82,"l6":3.23,"h6":3.57},
{"t":2011.25,"o":1.6,"c":3.39,"l1":1.69,"h1":5.09,"l2":2.03,"h2":4.75,"l3":2.37,"h3":4.41,"l4":2.71,"h4":4.07,"l5":2.96,"h5":3.82,"l6":3.22,"h6":3.56},
{"t":2011.5,"c":3.38,"l1":1.65,"h1":5.11,"l2":2,"h2":4.76,"l3":2.34,"h3":4.42,"l4":2.69,"h4":4.07,"l5":2.95,"h5":3.81,"l6":3.21,"h6":3.55},
{"t":2011.75,"c":3.4,"l1":1.65,"h1":5.15,"l2":2,"h2":4.8,"l3":2.35,"h3":4.45,"l4":2.7,"h4":4.1,"l5":2.96,"h5":3.84,"l6":3.22,"h6":3.58},
{"t":2012,"c":3.39,"l1":1.63,"h1":5.15,"l2":1.98,"h2":4.8,"l3":2.33,"h3":4.45,"l4":2.69,"h4":4.09,"l5":2.95,"h5":3.83,"l6":3.21,"h6":3.57},
{"t":2012.25,"c":3.34,"l1":1.58,"h1":5.1,"l2":1.93,"h2":4.75,"l3":2.28,"h3":4.4,"l4":2.64,"h4":4.04,"l5":2.9,"h5":3.78,"l6":3.16,"h6":3.52}],
"d12":[{"t":2005.25,"o":2.02},{"t":2005.5,"o":1.65},{"t":2005.75,"o":1.51},{"t":2006,"o":2.19},{"t":2006.25,"o":1.13},{"t":2006.5,"o":1.73},{"t":2006.75,"o":1.71},{"t":2007,"o":2.54},{"t":2007.25,"o":4.06},{"t":2007.5,"o":4.33},{"t":2007.75,"o":4.74},{"t":2008,"o":4.83},{"t":2008.25,"o":5.5},{"t":2008.5,"o":6.91},{"t":2008.75,"o":7.01},{"t":2009,"o":5.36},{"t":2009.25,"o":2.54},
{"t":2009.5,"o":-0.47,"c":-1.05,"l1":-1.73,"h1":-0.76,"l2":-1.59,"h2":-0.82,"l3":-1.46,"h3":-0.88,"l4":-1.32,"h4":-0.93,"l5":-1.22,"h5":-0.98,"l6":-1.12,"h6":-1.02},
{"t":2009.75,"o":-1.73,"c":-2.89,"l1":-4.83,"h1":-0.95,"l2":-4.44,"h2":-1.34,"l3":-4.05,"h3":-1.73,"l4":-3.67,"h4":-2.11,"l5":-3.38,"h5":-2.4,"l6":-3.08,"h6":-2.7},
{"t":2010,"o":-1.05,"c":-2.89,"l1":-5.18,"h1":-0.17,"l2":-4.72,"h2":-0.71,"l3":-4.26,"h3":-1.26,"l4":-3.81,"h4":-1.8,"l5":-3.46,"h5":-2.21,"l6":-3.12,"h6":-2.62},
{"t":2010.25,"o":0.12,"c":-1.92,"l1":-4.83,"h1":1.77,"l2":-4.25,"h2":1.03,"l3":-3.67,"h3":0.29,"l4":-3.08,"h4":-0.44,"l5":-2.65,"h5":-1,"l6":-2.21,"h6":-1.55},
{"t":2010.5,"o":0.7,"c":-0.37,"l1":-3.48,"h1":3.51,"l2":-2.86,"h2":2.73,"l3":-2.24,"h3":1.96,"l4":-1.61,"h4":1.18,"l5":-1.15,"h5":0.6,"l6":-0.68,"h6":0.02},
{"t":2010.75,"o":1.18,"c":0.99,"l1":-2.12,"h1":4.58,"l2":-1.5,"h2":3.86,"l3":-0.88,"h3":3.14,"l4":-0.25,"h4":2.43,"l5":0.21,"h5":1.89,"l6":0.68,"h6":1.35},
{"t":2011,"o":2.35,"c":1.77,"l1":-1.24,"h1":5.36,"l2":-0.64,"h2":4.64,"l3":-0.04,"h3":3.92,"l4":0.57,"h4":3.21,"l5":1.02,"h5":2.67,"l6":1.47,"h6":2.13},
{"t":2011.25,"o":3.61,"c":2.25,"l1":-0.85,"h1":5.88,"l2":-0.23,"h2":5.15,"l3":0.39,"h3":4.43,"l4":1.01,"h4":3.7,"l5":1.47,"h5":3.16,"l6":1.94,"h6":2.61},
{"t":2011.5,"c":2.54,"l1":-0.6,"h1":6.17,"l2":0.03,"h2":5.44,"l3":0.66,"h3":4.72,"l4":1.28,"h4":3.99,"l5":1.75,"h5":3.45,"l6":2.23,"h6":2.9},
{"t":2011.75,"c":2.7,"l1":-0.56,"h1":6.23,"l2":0.09,"h2":5.52,"l3":0.74,"h3":4.82,"l4":1.4,"h4":4.11,"l5":1.88,"h5":3.58,"l6":2.37,"h6":3.05},
{"t":2012,"c":2.7,"l1":-0.72,"h1":6.19,"l2":-0.04,"h2":5.49,"l3":0.65,"h3":4.79,"l4":1.33,"h4":4.1,"l5":1.84,"h5":3.57,"l6":2.36,"h6":3.05},
{"t":2012.25,"c":2.54,"l1":-0.95,"h1":6.08,"l2":-0.25,"h2":5.37,"l3":0.45,"h3":4.66,"l4":1.14,"h4":3.96,"l5":1.67,"h5":3.43,"l6":2.19,"h6":2.89}]
},
"columns":3,
"spacing":{"row":80,"column":64},
"bounds":"flush",
"resolve":{"scale":{"x":"independent","y":"independent","stroke":"shared"}},
"concat":[
{"width":431,"height":349,"data":{"name":"d1"},
"encoding":{"x":{"field":"t","type":"quantitative","scale":{"domain":[2003.95,2014.95],"nice":false,"zero":false},"axis":{"values":[2005.25,2006,2007,2008,2009,2010,2011,2012],"labelExpr":"datum.value < 2006 ? '2005' : substring(toString(datum.value), 2, 4)","title":"Oil price","titleX":7,"labelOffset":{"condition":{"test":"datum.value < 2006","value":-7},"value":2}}}},
"layer":[
{"mark":{"type":"area","color":"#dacfbb"},"encoding":{"y":{"field":"l1","type":"quantitative","scale":{"domain":[-100,100],"nice":false,"zero":false},"axis":{"values":[-100,-50,0,50,100],"title":"Percent","gridColor":{"condition":{"test":"datum.value == -100 || datum.value == 100","value":"transparent"},"value":"#ffffff"}}},"y2":{"field":"h1"}}},
{"mark":{"type":"area","color":"#c8b89b"},"encoding":{"y":{"field":"l2","type":"quantitative"},"y2":{"field":"h2"}}},
{"mark":{"type":"area","color":"#b09d7b"},"encoding":{"y":{"field":"l3","type":"quantitative"},"y2":{"field":"h3"}}},
{"mark":{"type":"area","color":"#937d58"},"encoding":{"y":{"field":"l4","type":"quantitative"},"y2":{"field":"h4"}}},
{"mark":{"type":"area","color":"#745e37"},"encoding":{"y":{"field":"l5","type":"quantitative"},"y2":{"field":"h5"}}},
{"mark":{"type":"area","color":"#544013"},"encoding":{"y":{"field":"l6","type":"quantitative"},"y2":{"field":"h6"}}},
{"data":{"values":[{"t":2009.25}]},"mark":{"type":"rule","color":"#5b4a1e","strokeWidth":1.5},"encoding":{}},
{"mark":{"type":"line","strokeWidth":3.2},"encoding":{"y":{"field":"o","type":"quantitative"},"stroke":{"datum":"Observed value","legend":{"title":null}}}},
{"mark":{"type":"line","strokeWidth":2.8},"encoding":{"y":{"field":"c","type":"quantitative"},"stroke":{"datum":"Point forecast"}}}]},
{"width":431,"height":349,"data":{"name":"d2"},
"encoding":{"x":{"field":"t","type":"quantitative","scale":{"domain":[2003.95,2014.95],"nice":false,"zero":false},"axis":{"values":[2005.25,2006,2007,2008,2009,2010,2011,2012],"labels":false,"title":"Industrial commodities","titleX":11}}},
"layer":[
{"mark":{"type":"area","color":"#dacfbb"},"encoding":{"y":{"field":"l1","type":"quantitative","scale":{"domain":[-40,60],"nice":false,"zero":false},"axis":{"values":[-40,-20,0,20,40,60],"title":"Percent","titleX":-48,"gridColor":{"condition":{"test":"datum.value == -40 || datum.value == 60","value":"transparent"},"value":"#ffffff"}}},"y2":{"field":"h1"}}},
{"mark":{"type":"area","color":"#c8b89b"},"encoding":{"y":{"field":"l2","type":"quantitative"},"y2":{"field":"h2"}}},
{"mark":{"type":"area","color":"#b09d7b"},"encoding":{"y":{"field":"l3","type":"quantitative"},"y2":{"field":"h3"}}},
{"mark":{"type":"area","color":"#937d58"},"encoding":{"y":{"field":"l4","type":"quantitative"},"y2":{"field":"h4"}}},
{"mark":{"type":"area","color":"#745e37"},"encoding":{"y":{"field":"l5","type":"quantitative"},"y2":{"field":"h5"}}},
{"mark":{"type":"area","color":"#544013"},"encoding":{"y":{"field":"l6","type":"quantitative"},"y2":{"field":"h6"}}},
{"data":{"values":[{"t":2009.25}]},"mark":{"type":"rule","color":"#5b4a1e","strokeWidth":1.5},"encoding":{}},
{"mark":{"type":"line","strokeWidth":3.2},"encoding":{"y":{"field":"o","type":"quantitative"},"stroke":{"datum":"Observed value","legend":{"title":null}}}},
{"mark":{"type":"line","strokeWidth":2.8},"encoding":{"y":{"field":"c","type":"quantitative"},"stroke":{"datum":"Point forecast"}}}]},
{"width":431,"height":349,"data":{"name":"d3"},
"encoding":{"x":{"field":"t","type":"quantitative","scale":{"domain":[2003.95,2014.95],"nice":false,"zero":false},"axis":{"values":[2005.25,2006,2007,2008,2009,2010,2011,2012],"labelExpr":"datum.value < 2006 ? '2005' : substring(toString(datum.value), 2, 4)","title":"Food commodities","titleX":6,"labelOffset":{"condition":{"test":"datum.value < 2006","value":-7},"value":2}}}},
"layer":[
{"mark":{"type":"area","color":"#dacfbb"},"encoding":{"y":{"field":"l1","type":"quantitative","scale":{"domain":[-40,60],"nice":false,"zero":false},"axis":{"values":[-40,-20,0,20,40,60],"title":null,"gridColor":{"condition":{"test":"datum.value == -40 || datum.value == 60","value":"transparent"},"value":"#ffffff"}}},"y2":{"field":"h1"}}},
{"mark":{"type":"area","color":"#c8b89b"},"encoding":{"y":{"field":"l2","type":"quantitative"},"y2":{"field":"h2"}}},
{"mark":{"type":"area","color":"#b09d7b"},"encoding":{"y":{"field":"l3","type":"quantitative"},"y2":{"field":"h3"}}},
{"mark":{"type":"area","color":"#937d58"},"encoding":{"y":{"field":"l4","type":"quantitative"},"y2":{"field":"h4"}}},
{"mark":{"type":"area","color":"#745e37"},"encoding":{"y":{"field":"l5","type":"quantitative"},"y2":{"field":"h5"}}},
{"mark":{"type":"area","color":"#544013"},"encoding":{"y":{"field":"l6","type":"quantitative"},"y2":{"field":"h6"}}},
{"data":{"values":[{"t":2009.25}]},"mark":{"type":"rule","color":"#5b4a1e","strokeWidth":1.5},"encoding":{}},
{"mark":{"type":"line","strokeWidth":3.2},"encoding":{"y":{"field":"o","type":"quantitative"},"stroke":{"datum":"Observed value","legend":{"title":null}}}},
{"mark":{"type":"line","strokeWidth":2.8},"encoding":{"y":{"field":"c","type":"quantitative"},"stroke":{"datum":"Point forecast"}}}]},
{"width":431,"height":349,"data":{"name":"d4"},
"encoding":{"x":{"field":"t","type":"quantitative","scale":{"domain":[2003.95,2014.95],"nice":false,"zero":false},"axis":{"values":[2005.25,2006,2007,2008,2009,2010,2011,2012],"labelExpr":"datum.value < 2006 ? '2005' : substring(toString(datum.value), 2, 4)","title":"PPI crude","titleX":9,"labelOffset":{"condition":{"test":"datum.value < 2006","value":-7},"value":2}}}},
"layer":[
{"mark":{"type":"area","color":"#dacfbb"},"encoding":{"y":{"field":"l1","type":"quantitative","scale":{"domain":[-50,100],"nice":false,"zero":false},"axis":{"values":[-50,0,50,100],"title":null,"gridColor":{"condition":{"test":"datum.value == -50 || datum.value == 100","value":"transparent"},"value":"#ffffff"}}},"y2":{"field":"h1"}}},
{"mark":{"type":"area","color":"#c8b89b"},"encoding":{"y":{"field":"l2","type":"quantitative"},"y2":{"field":"h2"}}},
{"mark":{"type":"area","color":"#b09d7b"},"encoding":{"y":{"field":"l3","type":"quantitative"},"y2":{"field":"h3"}}},
{"mark":{"type":"area","color":"#937d58"},"encoding":{"y":{"field":"l4","type":"quantitative"},"y2":{"field":"h4"}}},
{"mark":{"type":"area","color":"#745e37"},"encoding":{"y":{"field":"l5","type":"quantitative"},"y2":{"field":"h5"}}},
{"mark":{"type":"area","color":"#544013"},"encoding":{"y":{"field":"l6","type":"quantitative"},"y2":{"field":"h6"}}},
{"data":{"values":[{"t":2009.25}]},"mark":{"type":"rule","color":"#5b4a1e","strokeWidth":1.5},"encoding":{}},
{"mark":{"type":"line","strokeWidth":3.2},"encoding":{"y":{"field":"o","type":"quantitative"},"stroke":{"datum":"Observed value","legend":{"title":null}}}},
{"mark":{"type":"line","strokeWidth":2.8},"encoding":{"y":{"field":"c","type":"quantitative"},"stroke":{"datum":"Point forecast"}}}]},
{"width":431,"height":349,"data":{"name":"d5"},
"encoding":{"x":{"field":"t","type":"quantitative","scale":{"domain":[2003.95,2014.95],"nice":false,"zero":false},"axis":{"values":[2005.25,2006,2007,2008,2009,2010,2011,2012],"labelExpr":"datum.value < 2006 ? '2005' : substring(toString(datum.value), 2, 4)","title":"PPI intermediate","titleX":6,"labelOffset":{"condition":{"test":"datum.value < 2006","value":-7},"value":2}}}},
"layer":[
{"mark":{"type":"area","color":"#dacfbb"},"encoding":{"y":{"field":"l1","type":"quantitative","scale":{"domain":[-20,20],"nice":false,"zero":false},"axis":{"values":[-20,-10,0,10,20],"title":null,"gridColor":{"condition":{"test":"datum.value == -20 || datum.value == 20","value":"transparent"},"value":"#ffffff"}}},"y2":{"field":"h1"}}},
{"mark":{"type":"area","color":"#c8b89b"},"encoding":{"y":{"field":"l2","type":"quantitative"},"y2":{"field":"h2"}}},
{"mark":{"type":"area","color":"#b09d7b"},"encoding":{"y":{"field":"l3","type":"quantitative"},"y2":{"field":"h3"}}},
{"mark":{"type":"area","color":"#937d58"},"encoding":{"y":{"field":"l4","type":"quantitative"},"y2":{"field":"h4"}}},
{"mark":{"type":"area","color":"#745e37"},"encoding":{"y":{"field":"l5","type":"quantitative"},"y2":{"field":"h5"}}},
{"mark":{"type":"area","color":"#544013"},"encoding":{"y":{"field":"l6","type":"quantitative"},"y2":{"field":"h6"}}},
{"data":{"values":[{"t":2009.25}]},"mark":{"type":"rule","color":"#5b4a1e","strokeWidth":1.5},"encoding":{}},
{"mark":{"type":"line","strokeWidth":3.2},"encoding":{"y":{"field":"o","type":"quantitative"},"stroke":{"datum":"Observed value","legend":{"title":null}}}},
{"mark":{"type":"line","strokeWidth":2.8},"encoding":{"y":{"field":"c","type":"quantitative"},"stroke":{"datum":"Point forecast"}}}]},
{"width":431,"height":349,"data":{"name":"d6"},
"encoding":{"x":{"field":"t","type":"quantitative","scale":{"domain":[2003.95,2014.95],"nice":false,"zero":false},"axis":{"values":[2005.25,2006,2007,2008,2009,2010,2011,2012],"labelExpr":"datum.value < 2006 ? '2005' : substring(toString(datum.value), 2, 4)","title":"PPI final","titleX":14,"labelOffset":{"condition":{"test":"datum.value < 2006","value":-7},"value":2}}}},
"layer":[
{"mark":{"type":"area","color":"#dacfbb"},"encoding":{"y":{"field":"l1","type":"quantitative","scale":{"domain":[-10,10],"nice":false,"zero":false},"axis":{"values":[-10,-5,0,5,10],"title":null,"gridColor":{"condition":{"test":"datum.value == -10 || datum.value == 10","value":"transparent"},"value":"#ffffff"}}},"y2":{"field":"h1"}}},
{"mark":{"type":"area","color":"#c8b89b"},"encoding":{"y":{"field":"l2","type":"quantitative"},"y2":{"field":"h2"}}},
{"mark":{"type":"area","color":"#b09d7b"},"encoding":{"y":{"field":"l3","type":"quantitative"},"y2":{"field":"h3"}}},
{"mark":{"type":"area","color":"#937d58"},"encoding":{"y":{"field":"l4","type":"quantitative"},"y2":{"field":"h4"}}},
{"mark":{"type":"area","color":"#745e37"},"encoding":{"y":{"field":"l5","type":"quantitative"},"y2":{"field":"h5"}}},
{"mark":{"type":"area","color":"#544013"},"encoding":{"y":{"field":"l6","type":"quantitative"},"y2":{"field":"h6"}}},
{"data":{"values":[{"t":2009.25}]},"mark":{"type":"rule","color":"#5b4a1e","strokeWidth":1.5},"encoding":{}},
{"mark":{"type":"line","strokeWidth":3.2},"encoding":{"y":{"field":"o","type":"quantitative"},"stroke":{"datum":"Observed value","legend":{"title":null}}}},
{"mark":{"type":"line","strokeWidth":2.8},"encoding":{"y":{"field":"c","type":"quantitative"},"stroke":{"datum":"Point forecast"}}}]},
{"width":431,"height":349,"data":{"name":"d7"},
"encoding":{"x":{"field":"t","type":"quantitative","scale":{"domain":[2003.95,2014.95],"nice":false,"zero":false},"axis":{"values":[2005.25,2006,2007,2008,2009,2010,2011,2012],"labelExpr":"datum.value < 2006 ? '2005' : substring(toString(datum.value), 2, 4)","title":"Core PPI crude","titleX":10,"labelOffset":{"condition":{"test":"datum.value < 2006","value":-7},"value":2}}}},
"layer":[
{"mark":{"type":"area","color":"#dacfbb"},"encoding":{"y":{"field":"l1","type":"quantitative","scale":{"domain":[-50,100],"nice":false,"zero":false},"axis":{"values":[-50,0,50,100],"title":"Percent","gridColor":{"condition":{"test":"datum.value == -50 || datum.value == 100","value":"transparent"},"value":"#ffffff"}}},"y2":{"field":"h1"}}},
{"mark":{"type":"area","color":"#c8b89b"},"encoding":{"y":{"field":"l2","type":"quantitative"},"y2":{"field":"h2"}}},
{"mark":{"type":"area","color":"#b09d7b"},"encoding":{"y":{"field":"l3","type":"quantitative"},"y2":{"field":"h3"}}},
{"mark":{"type":"area","color":"#937d58"},"encoding":{"y":{"field":"l4","type":"quantitative"},"y2":{"field":"h4"}}},
{"mark":{"type":"area","color":"#745e37"},"encoding":{"y":{"field":"l5","type":"quantitative"},"y2":{"field":"h5"}}},
{"mark":{"type":"area","color":"#544013"},"encoding":{"y":{"field":"l6","type":"quantitative"},"y2":{"field":"h6"}}},
{"data":{"values":[{"t":2009.25}]},"mark":{"type":"rule","color":"#5b4a1e","strokeWidth":1.5},"encoding":{}},
{"mark":{"type":"line","strokeWidth":3.2},"encoding":{"y":{"field":"o","type":"quantitative"},"stroke":{"datum":"Observed value","legend":{"title":null}}}},
{"mark":{"type":"line","strokeWidth":2.8},"encoding":{"y":{"field":"c","type":"quantitative"},"stroke":{"datum":"Point forecast"}}}]},
{"width":431,"height":349,"data":{"name":"d8"},
"encoding":{"x":{"field":"t","type":"quantitative","scale":{"domain":[2003.95,2014.95],"nice":false,"zero":false},"axis":{"values":[2005.25,2006,2007,2008,2009,2010,2011,2012],"labelExpr":"datum.value < 2006 ? '2005' : substring(toString(datum.value), 2, 4)","title":"Core PPI intermediate","titleX":10,"labelOffset":{"condition":{"test":"datum.value < 2006","value":-7},"value":2}}}},
"layer":[
{"mark":{"type":"area","color":"#dacfbb"},"encoding":{"y":{"field":"l1","type":"quantitative","scale":{"domain":[-20,20],"nice":false,"zero":false},"axis":{"values":[-20,-10,0,10,20],"title":null,"gridColor":{"condition":{"test":"datum.value == -20 || datum.value == 20","value":"transparent"},"value":"#ffffff"}}},"y2":{"field":"h1"}}},
{"mark":{"type":"area","color":"#c8b89b"},"encoding":{"y":{"field":"l2","type":"quantitative"},"y2":{"field":"h2"}}},
{"mark":{"type":"area","color":"#b09d7b"},"encoding":{"y":{"field":"l3","type":"quantitative"},"y2":{"field":"h3"}}},
{"mark":{"type":"area","color":"#937d58"},"encoding":{"y":{"field":"l4","type":"quantitative"},"y2":{"field":"h4"}}},
{"mark":{"type":"area","color":"#745e37"},"encoding":{"y":{"field":"l5","type":"quantitative"},"y2":{"field":"h5"}}},
{"mark":{"type":"area","color":"#544013"},"encoding":{"y":{"field":"l6","type":"quantitative"},"y2":{"field":"h6"}}},
{"data":{"values":[{"t":2009.25}]},"mark":{"type":"rule","color":"#5b4a1e","strokeWidth":1.5},"encoding":{}},
{"mark":{"type":"line","strokeWidth":3.2},"encoding":{"y":{"field":"o","type":"quantitative"},"stroke":{"datum":"Observed value","legend":{"title":null}}}},
{"mark":{"type":"line","strokeWidth":2.8},"encoding":{"y":{"field":"c","type":"quantitative"},"stroke":{"datum":"Point forecast"}}}]},
{"width":431,"height":349,"data":{"name":"d9"},
"encoding":{"x":{"field":"t","type":"quantitative","scale":{"domain":[2003.95,2014.95],"nice":false,"zero":false},"axis":{"values":[2005.25,2006,2007,2008,2009,2010,2011,2012],"labelExpr":"datum.value < 2006 ? '2005' : substring(toString(datum.value), 2, 4)","title":"Core PPI final","titleX":9,"labelOffset":{"condition":{"test":"datum.value < 2006","value":-7},"value":2}}}},
"layer":[
{"mark":{"type":"area","color":"#dacfbb"},"encoding":{"y":{"field":"l1","type":"quantitative","scale":{"domain":[-4,6],"nice":false,"zero":false},"axis":{"values":[-4,-2,0,2,4,6],"title":null,"gridColor":{"condition":{"test":"datum.value == -4 || datum.value == 6","value":"transparent"},"value":"#ffffff"}}},"y2":{"field":"h1"}}},
{"mark":{"type":"area","color":"#c8b89b"},"encoding":{"y":{"field":"l2","type":"quantitative"},"y2":{"field":"h2"}}},
{"mark":{"type":"area","color":"#b09d7b"},"encoding":{"y":{"field":"l3","type":"quantitative"},"y2":{"field":"h3"}}},
{"mark":{"type":"area","color":"#937d58"},"encoding":{"y":{"field":"l4","type":"quantitative"},"y2":{"field":"h4"}}},
{"mark":{"type":"area","color":"#745e37"},"encoding":{"y":{"field":"l5","type":"quantitative"},"y2":{"field":"h5"}}},
{"mark":{"type":"area","color":"#544013"},"encoding":{"y":{"field":"l6","type":"quantitative"},"y2":{"field":"h6"}}},
{"data":{"values":[{"t":2009.25}]},"mark":{"type":"rule","color":"#5b4a1e","strokeWidth":1.5},"encoding":{}},
{"mark":{"type":"line","strokeWidth":3.2},"encoding":{"y":{"field":"o","type":"quantitative"},"stroke":{"datum":"Observed value","legend":{"title":null}}}},
{"mark":{"type":"line","strokeWidth":2.8},"encoding":{"y":{"field":"c","type":"quantitative"},"stroke":{"datum":"Point forecast"}}}]},
{"width":431,"height":349,"data":{"name":"d10"},
"encoding":{"x":{"field":"t","type":"quantitative","scale":{"domain":[2003.95,2014.95],"nice":false,"zero":false},"axis":{"values":[2005.25,2006,2007,2008,2009,2010,2011,2012],"labelExpr":"datum.value < 2006 ? '2005' : substring(toString(datum.value), 2, 4)","title":"Core PCE goods","titleX":10,"labelOffset":{"condition":{"test":"datum.value < 2006","value":-7},"value":2}}}},
"layer":[
{"mark":{"type":"area","color":"#dacfbb"},"encoding":{"y":{"field":"l1","type":"quantitative","scale":{"domain":[-4,4],"nice":false,"zero":false},"axis":{"values":[-4,-2,0,2,4],"title":null,"gridColor":{"condition":{"test":"datum.value == -4 || datum.value == 4","value":"transparent"},"value":"#ffffff"}}},"y2":{"field":"h1"}}},
{"mark":{"type":"area","color":"#c8b89b"},"encoding":{"y":{"field":"l2","type":"quantitative"},"y2":{"field":"h2"}}},
{"mark":{"type":"area","color":"#b09d7b"},"encoding":{"y":{"field":"l3","type":"quantitative"},"y2":{"field":"h3"}}},
{"mark":{"type":"area","color":"#937d58"},"encoding":{"y":{"field":"l4","type":"quantitative"},"y2":{"field":"h4"}}},
{"mark":{"type":"area","color":"#745e37"},"encoding":{"y":{"field":"l5","type":"quantitative"},"y2":{"field":"h5"}}},
{"mark":{"type":"area","color":"#544013"},"encoding":{"y":{"field":"l6","type":"quantitative"},"y2":{"field":"h6"}}},
{"data":{"values":[{"t":2009.25}]},"mark":{"type":"rule","color":"#5b4a1e","strokeWidth":1.5},"encoding":{}},
{"mark":{"type":"line","strokeWidth":3.2},"encoding":{"y":{"field":"o","type":"quantitative"},"stroke":{"datum":"Observed value","legend":{"title":null}}}},
{"mark":{"type":"line","strokeWidth":2.8},"encoding":{"y":{"field":"c","type":"quantitative"},"stroke":{"datum":"Point forecast"}}}]},
{"width":431,"height":349,"data":{"name":"d11"},
"encoding":{"x":{"field":"t","type":"quantitative","scale":{"domain":[2003.95,2014.95],"nice":false,"zero":false},"axis":{"values":[2005.25,2006,2007,2008,2009,2010,2011,2012],"labelExpr":"datum.value < 2006 ? '2005' : substring(toString(datum.value), 2, 4)","title":"Core PCE services","titleX":14,"labelOffset":{"condition":{"test":"datum.value < 2006","value":-7},"value":2}}}},
"layer":[
{"mark":{"type":"area","color":"#dacfbb"},"encoding":{"y":{"field":"l1","type":"quantitative","scale":{"domain":[1,6],"nice":false,"zero":false},"axis":{"values":[1,2,3,4,5,6],"format":"d","title":null,"gridColor":{"condition":{"test":"datum.value == 1 || datum.value == 6","value":"transparent"},"value":"#ffffff"}}},"y2":{"field":"h1"}}},
{"mark":{"type":"area","color":"#c8b89b"},"encoding":{"y":{"field":"l2","type":"quantitative"},"y2":{"field":"h2"}}},
{"mark":{"type":"area","color":"#b09d7b"},"encoding":{"y":{"field":"l3","type":"quantitative"},"y2":{"field":"h3"}}},
{"mark":{"type":"area","color":"#937d58"},"encoding":{"y":{"field":"l4","type":"quantitative"},"y2":{"field":"h4"}}},
{"mark":{"type":"area","color":"#745e37"},"encoding":{"y":{"field":"l5","type":"quantitative"},"y2":{"field":"h5"}}},
{"mark":{"type":"area","color":"#544013"},"encoding":{"y":{"field":"l6","type":"quantitative"},"y2":{"field":"h6"}}},
{"data":{"values":[{"t":2009.25}]},"mark":{"type":"rule","color":"#5b4a1e","strokeWidth":1.5},"encoding":{}},
{"mark":{"type":"line","strokeWidth":3.2},"encoding":{"y":{"field":"o","type":"quantitative"},"stroke":{"datum":"Observed value","legend":{"title":null}}}},
{"mark":{"type":"line","strokeWidth":2.8},"encoding":{"y":{"field":"c","type":"quantitative"},"stroke":{"datum":"Point forecast"}}}]},
{"width":431,"height":349,"data":{"name":"d12"},
"encoding":{"x":{"field":"t","type":"quantitative","scale":{"domain":[2003.95,2014.95],"nice":false,"zero":false},"axis":{"values":[2005.25,2006,2007,2008,2009,2010,2011,2012],"labelExpr":"datum.value < 2006 ? '2005' : substring(toString(datum.value), 2, 4)","title":"PCE food","titleX":13,"labelOffset":{"condition":{"test":"datum.value < 2006","value":-7},"value":2}}}},
"layer":[
{"mark":{"type":"area","color":"#dacfbb"},"encoding":{"y":{"field":"l1","type":"quantitative","scale":{"domain":[-10,10],"nice":false,"zero":false},"axis":{"values":[-10,-5,0,5,10],"title":null,"gridColor":{"condition":{"test":"datum.value == -10 || datum.value == 10","value":"transparent"},"value":"#ffffff"}}},"y2":{"field":"h1"}}},
{"mark":{"type":"area","color":"#c8b89b"},"encoding":{"y":{"field":"l2","type":"quantitative"},"y2":{"field":"h2"}}},
{"mark":{"type":"area","color":"#b09d7b"},"encoding":{"y":{"field":"l3","type":"quantitative"},"y2":{"field":"h3"}}},
{"mark":{"type":"area","color":"#937d58"},"encoding":{"y":{"field":"l4","type":"quantitative"},"y2":{"field":"h4"}}},
{"mark":{"type":"area","color":"#745e37"},"encoding":{"y":{"field":"l5","type":"quantitative"},"y2":{"field":"h5"}}},
{"mark":{"type":"area","color":"#544013"},"encoding":{"y":{"field":"l6","type":"quantitative"},"y2":{"field":"h6"}}},
{"data":{"values":[{"t":2009.25}]},"mark":{"type":"rule","color":"#5b4a1e","strokeWidth":1.5},"encoding":{}},
{"mark":{"type":"line","strokeWidth":3.2},"encoding":{"y":{"field":"o","type":"quantitative"},"stroke":{"datum":"Observed value","legend":{"title":null}}}},
{"mark":{"type":"line","strokeWidth":2.8},"encoding":{"y":{"field":"c","type":"quantitative"},"stroke":{"datum":"Point forecast"}}}]}
],
"config":{
"font":"Liberation Sans",
"view":{"stroke":"#5b4a1e","strokeWidth":1.5},
"range":{"category":["#5e9b4b","#ffffff"]},
"axis":{"labelFont":"Liberation Sans","labelFontWeight":"bold","labelFontSize":23,"labelColor":"#4a3a10","titleFont":"Liberation Sans","titleFontWeight":"bold","titleFontSize":20.5,"titleColor":"#4a3a10","domain":false,"ticks":true,"tickColor":"#5b4a1e","tickWidth":1.5,"tickSize":-12,"titleAngle":0,"titleAlign":"left","titleBaseline":"alphabetic","titlePadding":0,"labelOverlap":false,"labelFlush":false},
"axisX":{"grid":false,"labelPadding":30,"titleY":-318},
"axisY":{"grid":true,"gridWidth":2,"labelPadding":22,"titleX":-60,"titleY":-22},
"legend":{"orient":"none","legendX":586,"legendY":1722,"symbolType":"stroke","symbolSize":400,"symbolStrokeWidth":3,"labelFont":"Liberation Sans","labelFontWeight":"bold","labelFontSize":20.5,"labelColor":"#4a3a10","labelOffset":8,"rowPadding":7,"direction":"vertical"}
}
}
